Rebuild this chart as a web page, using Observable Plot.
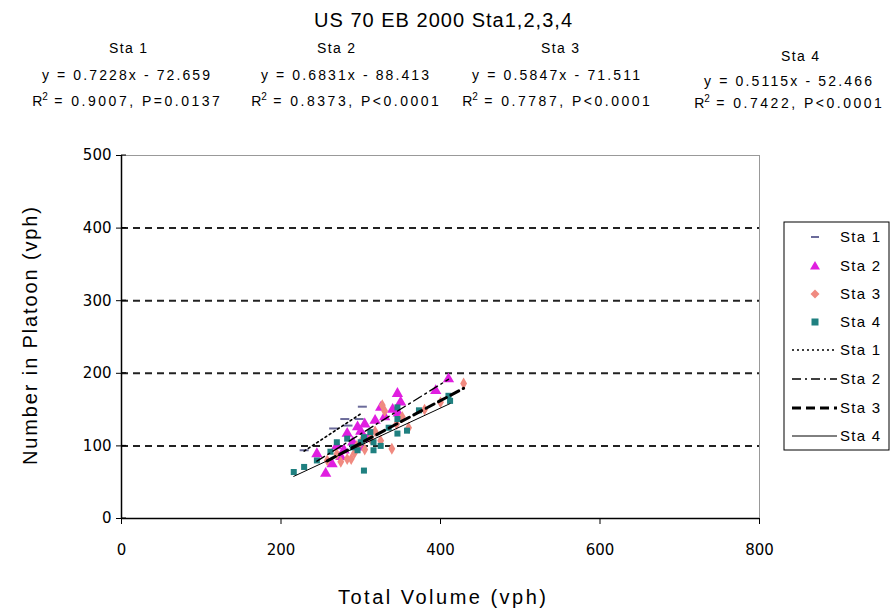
<!DOCTYPE html>
<html><head><meta charset="utf-8">
<script src="https://cdn.jsdelivr.net/npm/d3@7"></script>
<script src="https://cdn.jsdelivr.net/npm/@observablehq/plot@0.6"></script>
<style>
html,body{margin:0;padding:0;background:#fff;}
#chart{width:894px;height:612px;}
</style></head>
<body><div id="chart"></div>
<script>
// ---- data ----
const seriesNames = ["Sta 1", "Sta 2", "Sta 3", "Sta 4"];
const sta1X = [229, 266, 284, 280, 298, 302];
const sta1Y = [94, 124, 128, 137, 137, 154];
const sta2X = [245, 256, 264, 270, 275, 279, 283, 290, 296, 300, 300, 305, 310, 318, 325, 330, 340, 346, 347, 350, 394, 410];
const sta2Y = [89, 62, 75, 100, 85, 94, 117, 105, 126, 120, 98, 130, 110, 135, 153, 140, 150, 172, 145, 160, 176, 192];
const sta3X = [258, 270, 275, 283, 288, 292, 295, 300, 305, 312, 318, 325, 327, 330, 339, 345, 352, 360, 380, 400, 429];
const sta3Y = [80, 89, 78, 82, 82, 90, 100, 105, 95, 110, 120, 107, 156, 148, 96, 130, 140, 125, 150, 160, 186];
const sta4X = [216, 229, 245, 262, 270, 283, 290, 296, 300, 304, 304, 312, 316, 316, 325, 335, 346, 346, 346, 358, 373, 410, 412];
const sta4Y = [64, 71, 80, 92, 105, 110, 98, 94, 105, 112, 66, 119, 105, 94, 100, 125, 153, 137, 117, 121, 149, 169, 162];
const slopes = [0.7228, 0.6831, 0.5847, 0.5115];
const intercepts = [-72.659, -88.413, -71.511, -52.466];
const eqTexts = ["y = 0.7228x - 72.659", "y = 0.6831x - 88.413", "y = 0.5847x - 71.511", "y = 0.5115x - 52.466"];
const r2Texts = [" = 0.9007, P=0.0137", " = 0.8373, P<0.0001", " = 0.7787, P<0.0001", " = 0.7422, P<0.0001"];
const xTicks = [0, 200, 400, 600, 800];
const yTicks = [0, 100, 200, 300, 400, 500];
const gridValues = [100, 200, 300, 400];
const titleText = "US 70 EB 2000 Sta1,2,3,4";
const xLabel = "Total Volume (vph)";
const yLabel = "Number in Platoon (vph)";

// ---- build tables ----
const xs = [sta1X, sta2X, sta3X, sta4X], ys = [sta1Y, sta2Y, sta3Y, sta4Y];
const points = [];
xs.forEach((arr, i) => arr.forEach((x, j) => points.push({s: seriesNames[i], x, y: ys[i][j]})));
const fits = seriesNames.map((s, i) => {
  const [a, b] = d3.extent(xs[i]);
  return [{s, x: a, y: slopes[i] * a + intercepts[i]}, {s, x: b, y: slopes[i] * b + intercepts[i]}];
});
const byS = s => points.filter(d => d.s === s);

const dashSymbol = {draw(ctx, size) { ctx.rect(-4.5, -1, 9, 2); }};
const colors = {"Sta 1": "#6b6b9a", "Sta 2": "#e01ee0", "Sta 3": "#f08a80", "Sta 4": "#1f8080"};
const lineStyles = [
  {dash: "2,3", w: 1.6},
  {dash: "9,4,2,4", w: 1.4},
  {dash: "9,5", w: 3},
  {dash: null, w: 1}
];

const FONT = "'Liberation Sans', Arial, sans-serif";
const TICKFONT = "'DejaVu Sans', 'Liberation Sans', sans-serif";
const plot = Plot.plot({
  width: 894, height: 612,
  marginLeft: 121, marginRight: 135, marginTop: 155, marginBottom: 94,
  x: {type: "linear", domain: [0, 800]},
  y: {type: "linear", domain: [0, 500]},
  style: {fontFamily: TICKFONT, fontSize: "15px", color: "#000", background: "#fff", overflow: "visible"},
  marks: [
    Plot.ruleY(gridValues, {stroke: "#222", strokeWidth: 2, strokeDasharray: "7,5"}),
    Plot.ruleY([500], {stroke: "#999", strokeWidth: 1}),
    Plot.ruleX([800], {stroke: "#999", strokeWidth: 1}),
    Plot.dot(byS("Sta 1"), {x: "x", y: "y", symbol: dashSymbol, fill: colors["Sta 1"], stroke: null, r: 4}),
    Plot.dot(byS("Sta 2"), {x: "x", y: "y", symbol: "triangle", fill: colors["Sta 2"], stroke: null, r: 4.2}),
    Plot.dot(byS("Sta 3"), {x: "x", y: "y", symbol: "diamond", fill: colors["Sta 3"], stroke: null, r: 3.6}),
    Plot.dot(byS("Sta 4"), {x: "x", y: "y", symbol: "square", fill: colors["Sta 4"], stroke: null, r: 3.4}),
    ...fits.map((f, i) => Plot.line(f, {x: "x", y: "y", stroke: "#000", strokeWidth: lineStyles[i].w, strokeDasharray: lineStyles[i].dash})),
    Plot.ruleX([0], {stroke: "#000", strokeWidth: 1.5}),
    Plot.ruleY([0], {stroke: "#000", strokeWidth: 1.5}),
    Plot.axisX({ticks: xTicks, tickSize: 6, tickPadding: 20, label: null, fontSize: 15, fontFamily: TICKFONT}),
    Plot.axisY({ticks: yTicks, tickSize: 5, tickPadding: 5, label: null, fontSize: 15, fontFamily: TICKFONT})
  ]
});
document.getElementById("chart").appendChild(plot);

const svg = d3.select(plot);
const txt = (x, y, s, size, len, anchor = "middle") => {
  const t = svg.append("text").attr("x", x).attr("y", y)
    .attr("text-anchor", anchor).attr("font-family", FONT).attr("font-size", size).attr("fill", "#000").text(s);
  if (len) t.attr("textLength", len).attr("lengthAdjust", "spacing");
  return t;
};

// inner half of the crossing y ticks
const xS = plot.scale("x"), yS = plot.scale("y");
yTicks.forEach(v => svg.append("line").attr("x1", xS.apply(0)).attr("x2", xS.apply(0) + 5)
  .attr("y1", yS.apply(v)).attr("y2", yS.apply(v)).attr("stroke", "#000"));

txt(443, 27, titleText, 20, 258);
const colX = [126, 345, 556, 788];
const headX = [128, 336, 560, 800];
const rowDy = [0, 0, 0, 8];
seriesNames.forEach((s, i) => {
  const o = rowDy[i];
  txt(headX[i], 53 + o, s, 14, 38);
  txt(colX[i], 80 + o * 0.7, eqTexts[i], 14, 168);
  const t = svg.append("text").attr("x", colX[i]).attr("y", 106 + o * 0.3).attr("text-anchor", "middle")
    .attr("font-family", FONT).attr("font-size", 14).attr("fill", "#000");
  t.append("tspan").text("R");
  t.append("tspan").attr("dy", -6).attr("font-size", 10).text("2");
  t.append("tspan").attr("dy", 6).attr("textLength", 172).attr("lengthAdjust", "spacing").text(r2Texts[i]);
});

txt(442, 604, xLabel, 20, 208);
svg.append("text").attr("transform", "translate(37,336) rotate(-90)").attr("text-anchor", "middle")
  .attr("font-family", FONT).attr("font-size", 20).attr("fill", "#000")
  .attr("textLength", 258).attr("lengthAdjust", "spacing").text(yLabel);

// legend
const lg = svg.append("g");
lg.append("rect").attr("x", 784).attr("y", 222).attr("width", 105).attr("height", 228).attr("fill", "#fff").attr("stroke", "#000").attr("stroke-width", 1);
const rowsY = [237, 266, 294, 322, 350, 379, 408, 436];
seriesNames.forEach((s, i) => {
  const y = rowsY[i];
  const cx = 815;
  if (i === 0) lg.append("rect").attr("x", cx - 4).attr("y", y - 1).attr("width", 8).attr("height", 2).attr("fill", colors[s]);
  if (i === 1) lg.append("path").attr("d", `M${cx},${y - 5}L${cx + 5},${y + 3.5}L${cx - 5},${y + 3.5}Z`).attr("fill", colors[s]);
  if (i === 2) lg.append("path").attr("d", `M${cx},${y - 4.5}L${cx + 4.5},${y}L${cx},${y + 4.5}L${cx - 4.5},${y}Z`).attr("fill", colors[s]);
  if (i === 3) lg.append("rect").attr("x", cx - 3.5).attr("y", y - 3.5).attr("width", 7).attr("height", 7).attr("fill", colors[s]);
  lg.append("text").attr("x", 840).attr("y", y + 5).attr("text-anchor", "start").attr("font-family", FONT).attr("font-size", 15)
    .attr("textLength", 40).attr("lengthAdjust", "spacing").text(s);
});
seriesNames.forEach((s, i) => {
  const y = rowsY[4 + i];
  lg.append("line").attr("x1", 792).attr("x2", 837).attr("y1", y).attr("y2", y).attr("stroke", "#000")
    .attr("stroke-width", lineStyles[i].w).attr("stroke-dasharray", lineStyles[i].dash);
  lg.append("text").attr("x", 840).attr("y", y + 5).attr("text-anchor", "start").attr("font-family", FONT).attr("font-size", 15)
    .attr("textLength", 40).attr("lengthAdjust", "spacing").text(s);
});
</script></body></html>
